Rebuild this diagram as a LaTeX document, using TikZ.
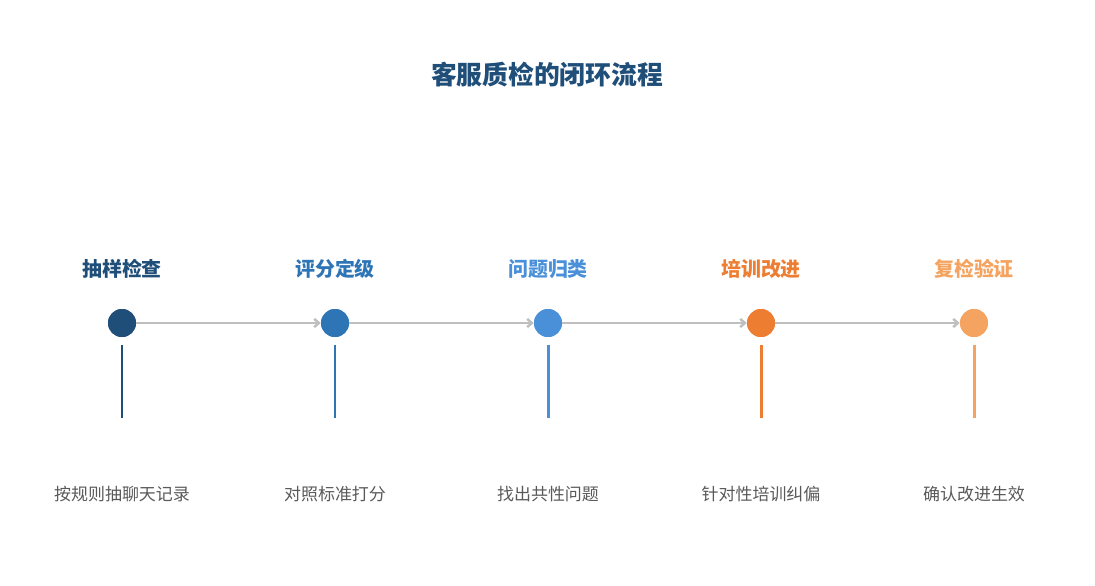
\documentclass[tikz,border=0pt]{standalone}
\usepackage{fontspec}
\setmainfont{Noto Sans CJK SC}
\usetikzlibrary{arrows.meta}
\definecolor{c1}{HTML}{1F4E79}
\definecolor{c2}{HTML}{2E75B6}
\definecolor{c3}{HTML}{4A90D9}
\definecolor{c4}{HTML}{ED7D31}
\definecolor{c5}{HTML}{F4A460}
\definecolor{ln}{HTML}{BFBFBF}
\definecolor{tx}{HTML}{595959}
\begin{document}
\begin{tikzpicture}[x=0.03cm,y=-0.03cm,
  dot/.style={circle,fill=#1,minimum size=28*0.03cm,inner sep=0pt},
  head/.style={text=#1,font=\fontsize{17}{20}\selectfont\bfseries},
  desc/.style={text=tx,font=\fontsize{14.5}{17}\selectfont},
  stem/.style={draw=#1,line width=3pt*0.85},
  conn/.style={draw=ln,line width=2.5pt*0.85,-{Straight Barb[length=4pt,width=7pt]}}]
\useasboundingbox (0,0) rectangle (1095,585);
\node[text=c1,font=\fontsize{22}{26}\selectfont\bfseries] (title) at (547,75) {客服质检的闭环流程};
\foreach \i/\x/\c/\h/\d in {1/122/c1/抽样检查/按规则抽聊天记录,2/335/c2/评分定级/对照标准打分,3/548/c3/问题归类/找出共性问题,4/761/c4/培训改进/针对性培训纠偏,5/974/c5/复检验证/确认改进生效}{
  \node[head=\c] (h\i) at (\x,269) {\h};
  \node[dot=\c] (d\i) at (\x,323) {};
  \coordinate (s\i) at (\x,345);
  \coordinate (e\i) at (\x,418);
  \draw[stem=\c] (s\i) -- (e\i);
  \node[desc] (t\i) at (\x,494) {\d};
}
\foreach \a/\b in {1/2,2/3,3/4,4/5}{
  \draw[conn] (d\a) -- (d\b);
}
\foreach \i/\c in {1/c1,2/c2,3/c3,4/c4,5/c5}{\node[dot=\c] at (d\i) {};}
\end{tikzpicture}
\end{document}
